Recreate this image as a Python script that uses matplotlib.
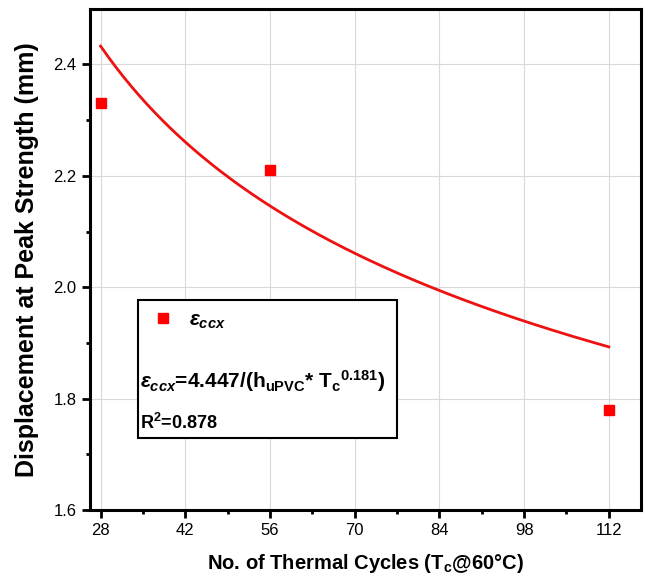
import matplotlib.pyplot as plt
import numpy as np
from matplotlib.patches import Rectangle

plt.rcParams['font.family'] = ['Liberation Sans', 'DejaVu Sans']
plt.rcParams['mathtext.fontset'] = 'custom'
plt.rcParams['mathtext.it'] = 'Liberation Sans:italic:bold'
plt.rcParams['mathtext.rm'] = 'Liberation Sans:bold'
plt.rcParams['mathtext.bf'] = 'Liberation Sans:bold'

cycles = [28, 56, 112]
displacement = [2.33, 2.21, 1.78]
coef = 4.447
expo = 0.181
h_upvc = 1.0
r2 = 0.878
xticks = [28, 42, 56, 70, 84, 98, 112]
yticks = [1.6, 1.8, 2.0, 2.2, 2.4]

fig = plt.figure(figsize=(6.5, 5.83), dpi=100)
ax = fig.add_axes([0.138, 0.125, 0.848, 0.86])

xfit = np.linspace(28, 112, 200)
yfit = coef / (h_upvc * xfit ** expo)
ax.plot(xfit, yfit, color='#ee1111', lw=2)
ax.plot(cycles, displacement, 's', color='red', ms=7, ls='none', label=r'$\varepsilon_{ccx}$')

ax.set_xlim(26.2, 117.3)
ax.set_ylim(1.6, 2.5)
ax.set_xticks(xticks)
ax.set_yticks(yticks)
ax.set_xticks(np.arange(35, 118, 14), minor=True)
ax.set_yticks([1.7, 1.9, 2.1, 2.3], minor=True)
ax.grid(True, which='major', color='#d9d9d9', lw=0.8)
ax.set_axisbelow(True)
ax.tick_params(which='major', direction='out', length=6, width=2, labelsize=12)
ax.tick_params(which='minor', direction='out', length=3, width=2)
for s in ax.spines.values():
    s.set_linewidth(2.2)

ax.set_xlabel(r'No. of Thermal Cycles (T$_\mathrm{c}$@60°C)', fontsize=14.5,
              fontweight='bold', labelpad=10)
ax.set_ylabel('Displacement at Peak Strength (mm)', fontsize=18, fontweight='bold',
              labelpad=10)

# boxed legend with the fitted equation
box = Rectangle((0.087, 0.144), 0.47, 0.276, transform=ax.transAxes,
                fill=True, facecolor='white', edgecolor='black', lw=1.5, zorder=5)
ax.add_patch(box)
leg = ax.legend(loc='upper left', bbox_to_anchor=(0.075, 0.435), frameon=False,
                fontsize=15, handletextpad=0.6, handlelength=1.3)
leg.set_zorder(6)
ax.text(0.092, 0.243,
        r'$\varepsilon_{ccx}$=4.447/(h$_{\mathrm{uPVC}}$* T$_\mathrm{c}$$^{\mathrm{0.181}}$)',
        transform=ax.transAxes, fontsize=15, fontweight='bold', zorder=7)
ax.text(0.092, 0.162, r'R$^\mathrm{2}$=0.878', transform=ax.transAxes, fontsize=13,
        fontweight='bold', zorder=7)

fig.savefig('out.png')
